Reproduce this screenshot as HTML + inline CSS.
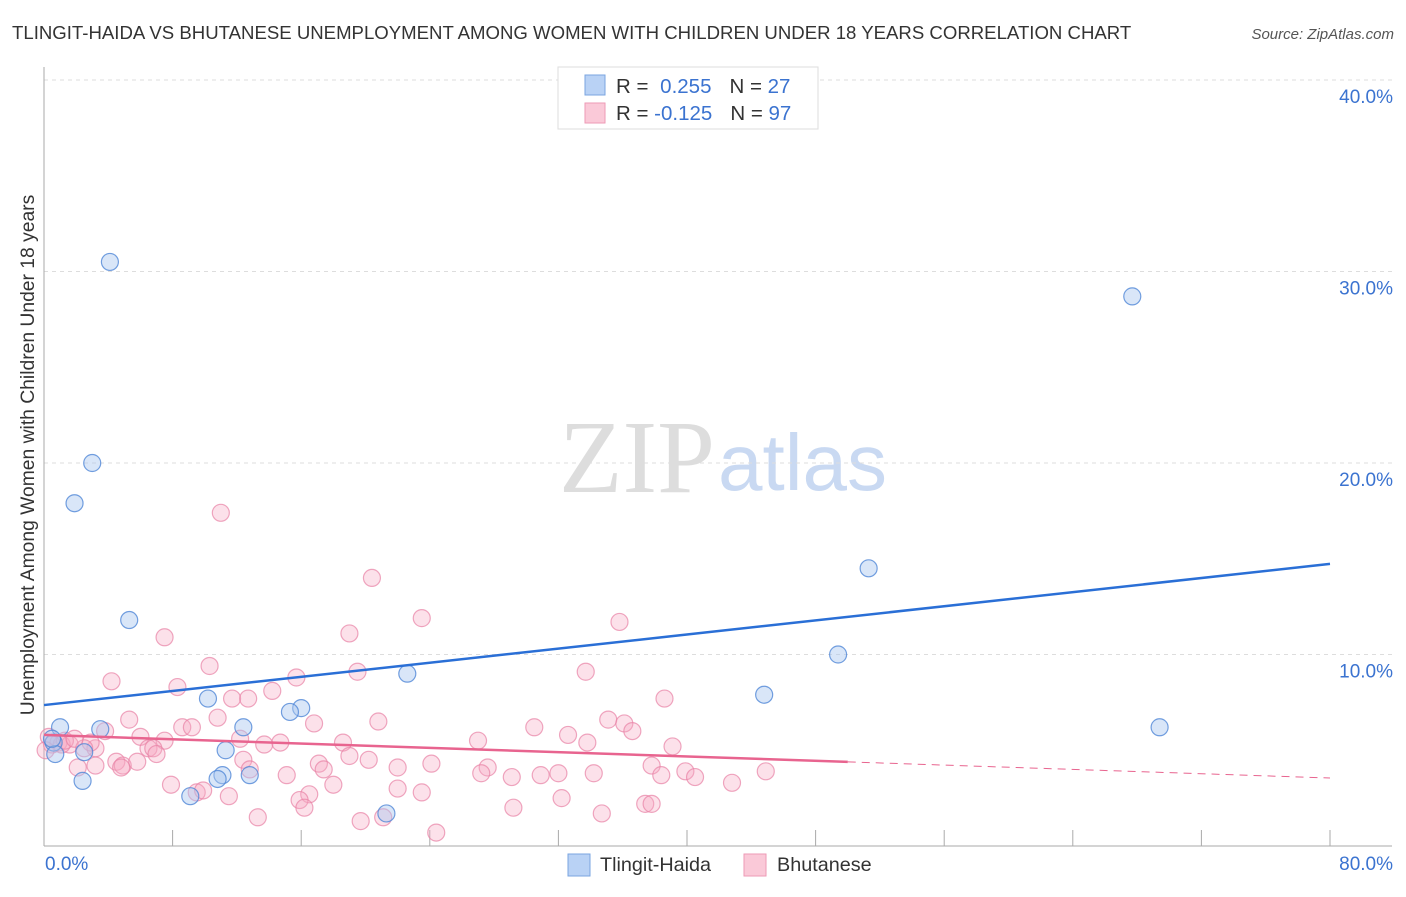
<!DOCTYPE html>
<html><head><meta charset="utf-8"><style>
body{margin:0;background:#fff;font-family:"Liberation Sans",sans-serif}
svg text{font-family:"Liberation Sans",sans-serif}
</style></head><body>
<svg id="chart" width="1406" height="892">
<text x="12" y="39" font-size="18.6" fill="#333">TLINGIT-HAIDA VS BHUTANESE UNEMPLOYMENT AMONG WOMEN WITH CHILDREN UNDER 18 YEARS CORRELATION CHART</text>
<text x="1394" y="39" font-size="15" fill="#555" font-style="italic" text-anchor="end">Source: ZipAtlas.com</text>
<text x="715" y="492" font-size="104" fill="#ddd" text-anchor="end" style="font-family:'Liberation Serif',serif">ZIP</text>
<text x="718" y="490" font-size="80" fill="#c9d9f2">atlas</text>
<text transform="translate(34,455) rotate(-90)" font-size="19.3" fill="#333" text-anchor="middle">Unemployment Among Women with Children Under 18 years</text>
<g id="grid"></g><g id="marks"></g>
<g>
<rect x="558" y="67" width="260" height="62" fill="#fff" stroke="#ddd"/>
<rect x="585" y="75" width="20" height="20" fill="#b9d2f5" stroke="#7aa4e0"/>
<rect x="585" y="103" width="20" height="20" fill="#fac9d8" stroke="#ee9ab6"/>
<text x="616" y="93" font-size="20.5" fill="#333">R = <tspan fill="#3b73d0" dx="6">0.255</tspan><tspan dx="18" fill="#333">N = </tspan><tspan fill="#3b73d0">27</tspan></text>
<text x="616" y="120" font-size="20.5" fill="#333">R = <tspan fill="#3b73d0" dx="0">-0.125</tspan><tspan dx="18" fill="#333">N = </tspan><tspan fill="#3b73d0">97</tspan></text>
</g>
<g>
<rect x="568" y="854" width="22" height="22" fill="#b9d2f5" stroke="#7aa4e0"/>
<text x="600" y="871" font-size="19.8" fill="#333">Tlingit-Haida</text>
<rect x="744" y="854" width="22" height="22" fill="#fac9d8" stroke="#ee9ab6"/>
<text x="777" y="871" font-size="19.8" fill="#333">Bhutanese</text>
</g>
</svg>
<script>
const blueX=[4.1,3.0,1.9,5.3,51.3,67.7,49.4,44.8,69.4,22.6,10.2,16.0,15.3,12.4,11.3,1.0,3.5,0.6,0.7,2.5,2.4,11.1,10.8,12.8,9.1,21.3,0.5];
const blueY=[30.5,20.0,17.9,11.8,14.5,28.7,10.0,7.9,6.2,9.0,7.7,7.2,7.0,6.2,5.0,6.2,6.1,5.4,4.8,4.9,3.4,3.7,3.5,3.7,2.6,1.7,5.6];
const pinkX=[11.0,20.4,23.5,19.0,35.8,7.5,10.3,15.7,33.7,19.5,4.2,8.3,14.2,38.6,11.7,12.7,10.8,20.8,16.8,5.3,35.1,36.1,30.5,32.6,36.6,8.6,9.2,3.8,6.0,0.3,12.2,14.7,13.7,7.5,0.9,1.6,3.2,6.5,6.8,7.0,27.0,33.8,39.1,18.6,19.0,1.1,1.3,2.9,20.2,17.1,37.8,24.1,17.4,2.1,27.6,3.2,4.5,4.9,5.8,4.8,12.4,12.8,30.9,27.2,22.0,38.4,29.1,32.0,34.2,39.9,40.5,44.9,15.1,22.0,7.9,18.0,9.5,9.9,23.5,11.5,16.5,15.9,16.2,42.8,32.2,29.2,37.4,37.8,34.7,13.3,21.1,19.7,24.4,2.5,1.9,0.5,0.1];
const pinkY=[17.4,14.0,11.9,11.1,11.7,10.9,9.4,8.8,9.1,9.1,8.6,8.3,8.1,7.7,7.7,7.7,6.7,6.5,6.4,6.6,6.6,6.4,6.2,5.8,6.0,6.2,6.2,6.0,5.7,5.7,5.6,5.4,5.3,5.5,5.4,5.3,5.1,5.1,5.1,4.8,5.5,5.4,5.2,5.4,4.7,5.3,5.5,5.4,4.5,4.3,4.2,4.3,4.0,4.1,4.1,4.2,4.4,4.2,4.4,4.1,4.5,4.0,3.7,3.8,4.1,3.7,3.6,3.8,3.8,3.9,3.6,3.9,3.7,3.0,3.2,3.2,2.8,2.9,2.8,2.6,2.7,2.4,2.0,3.3,2.5,2.0,2.2,2.2,1.7,1.5,1.5,1.3,0.7,5.1,5.6,5.3,5.0];
const blueTrend=[7.36,14.73];   // y at x=0, x=80
const pinkTrend=[5.80,3.55];    // y at x=0, x=80
const pinkSolidEnd=50;
const yTicks=[10,20,30,40];
const xTickLabels=["0.0%","80.0%"];
const X=v=>44+v*(1286/80), Y=v=>846-v*19.15;
const NS="http://www.w3.org/2000/svg";
const grid=document.getElementById('grid'), marks=document.getElementById('marks');
function mk(tag,attrs,parent){const e=document.createElementNS(NS,tag);for(const k in attrs)e.setAttribute(k,attrs[k]);parent.appendChild(e);return e;}
yTicks.forEach(t=>{
 const l=mk('line',{x1:44,x2:1392,y1:Y(t),y2:Y(t),stroke:'#ddd','stroke-dasharray':'4,4'},grid);
 
 
 const tx=mk('text',{x:1393,y:Y(t)+23,'font-size':19,fill:'#3b73d0','text-anchor':'end'},grid);
 tx.textContent=t.toFixed(1)+'%';
 
 
});
const ax=mk('line',{x1:44,x2:44,y1:67,y2:846,stroke:'#aaa'},grid);


const bx=mk('line',{x1:44,x2:1392,y1:846,y2:846,stroke:'#aaa'},grid);


for(let i=0;i<=10;i++){const t=mk('line',{x1:X(i*8),x2:X(i*8),y1:830,y2:846,stroke:'#aaa'},grid);
 
 }
[[0,'start',45],[80,'end',1393]].forEach((d,i)=>{const t=mk('text',{x:d[2],y:870,'font-size':19,fill:'#3b73d0','text-anchor':d[1]},grid);t.textContent=xTickLabels[i];
 
 });
pinkX.forEach((x,i)=>{const c=mk('circle',{cx:X(x),cy:Y(pinkY[i]),r:8.5,fill:'rgba(246,170,196,0.35)',stroke:'rgba(232,130,165,0.7)','stroke-width':1.2},marks);
 
 });
blueX.forEach((x,i)=>{const c=mk('circle',{cx:X(x),cy:Y(blueY[i]),r:8.5,fill:'rgba(170,200,240,0.45)',stroke:'rgba(80,135,215,0.8)','stroke-width':1.2},marks);
 
 });
const pAt=x=>pinkTrend[0]+(pinkTrend[1]-pinkTrend[0])*x/80;
const bl=mk('line',{x1:X(0),y1:Y(blueTrend[0]),x2:X(80),y2:Y(blueTrend[1]),stroke:'#2a6fd6','stroke-width':2.5},marks);


const pl=mk('line',{x1:X(0),y1:Y(pAt(0)),x2:X(pinkSolidEnd),y2:Y(pAt(pinkSolidEnd)),stroke:'#e8648f','stroke-width':2.5},marks);


const pd=mk('line',{x1:X(pinkSolidEnd),y1:Y(pAt(pinkSolidEnd)),x2:X(80),y2:Y(pAt(80)),stroke:'#e8648f','stroke-width':1,'stroke-dasharray':'8,6'},marks);


</script>
</body></html>
